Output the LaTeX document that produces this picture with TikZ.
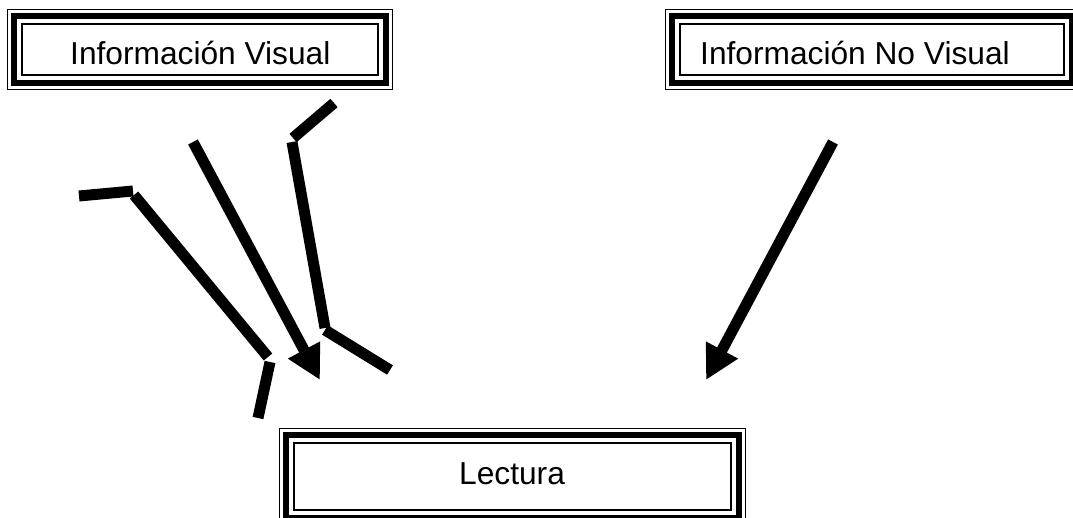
\documentclass[tikz,border=0pt]{standalone}
\usepackage{fontspec}
\setmainfont{Liberation Sans}
\usetikzlibrary{arrows.meta}
\begin{document}
\begin{tikzpicture}[x=1pt,y=-1pt,
  inbox/.style={draw, line width=1.8pt, rectangle, inner sep=0pt},
  thickframe/.style={line width=5.5pt},
  thinframe/.style={line width=1.5pt},
  lbl/.style={font=\fontsize{31.7}{38}\selectfont, inner sep=0pt, anchor=base west},
  bar/.style={line width=11pt, line cap=butt},
  arr/.style={bar, -{Triangle[length=34pt,width=34pt]}}
]
\useasboundingbox (0,0) rectangle (1073,518);

% boxes
\node[inbox, minimum width=356pt, minimum height=51pt] (vis) at (200,49.5) {};
\node[inbox, minimum width=384pt, minimum height=51pt] (novis) at (872,49.5) {};
\node[inbox, minimum width=437pt, minimum height=67pt] (lect) at (512.5,476.5) {};
\foreach \b in {vis,novis,lect}{
  \draw[thickframe] ([shift={(-7,-7)}]\b.north west) rectangle ([shift={(7,7)}]\b.south east);
  \draw[thinframe] ([shift={(-13.5,-13.5)}]\b.north west) rectangle ([shift={(13.5,13.5)}]\b.south east);
}
\node[lbl] (visT) at (70,65) {Información Visual};
\node[lbl] (novisT) at (700,65) {Información No Visual};
\node[lbl] (lectT) at (459,484) {Lectura};

% left broken path
\coordinate (a0) at (79,196);
\coordinate (a1) at (133,191);
\coordinate (a1b) at (134,195);
\coordinate (a2) at (268,357);
\coordinate (a2b) at (270,362);
\coordinate (a3) at (258,418);
\draw[bar] (a0) -- (a1);
\draw[bar] (a1b) -- (a2);
\draw[bar] (a2b) -- (a3);

% middle arrow
\coordinate (b0) at (193,142);
\coordinate (b1) at (320,380);
\draw[arr] (b0) -- (b1);

% right broken path
\coordinate (c0) at (334,103);
\coordinate (c1) at (293,138);
\coordinate (c1b) at (292,142);
\coordinate (c2) at (325,328);
\coordinate (c2b) at (325,330);
\coordinate (c3) at (390,370);
\draw[bar] (c0) -- (c1);
\draw[bar] (c1b) -- (c2);
\draw[bar] (c2b) -- (c3);

% right arrow
\coordinate (d0) at (833,142);
\coordinate (d1) at (706,380);
\draw[arr] (d0) -- (d1);
\end{tikzpicture}
\end{document}
